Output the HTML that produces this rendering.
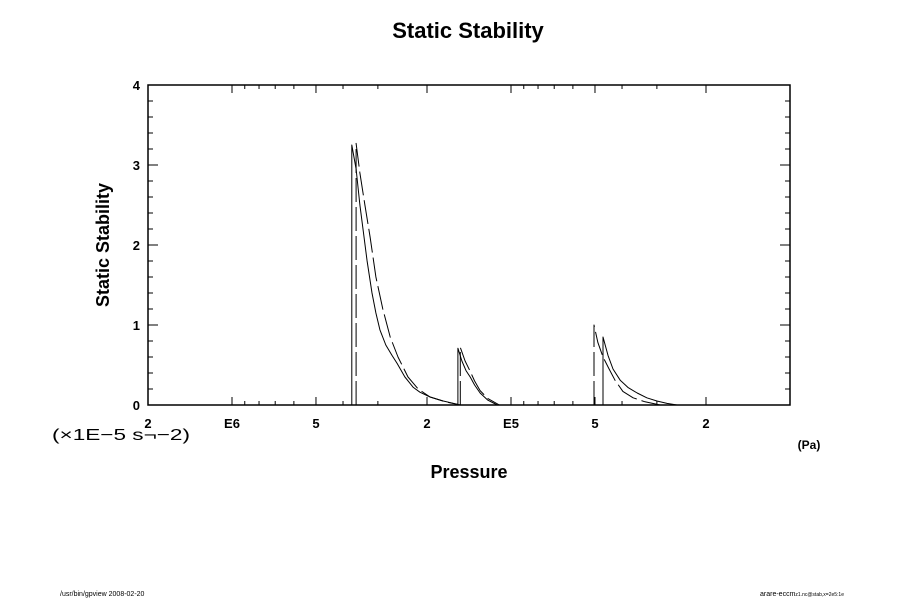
<!DOCTYPE html>
<html><head><meta charset="utf-8"><style>
body{margin:0;background:#fff}
svg text{font-family:"Liberation Sans",sans-serif}
</style></head><body>
<svg width="900" height="600" viewBox="0 0 900 600" xmlns="http://www.w3.org/2000/svg">
<text x="468" y="38" text-anchor="middle" font-size="22" font-weight="bold">Static Stability</text>
<text transform="translate(109,245) rotate(-90)" text-anchor="middle" font-size="18" font-weight="bold">Static Stability</text>
<text x="469" y="478" text-anchor="middle" font-size="18" font-weight="bold">Pressure</text>
<text x="809" y="449" text-anchor="middle" font-size="12" font-weight="bold">(Pa)</text>
<text x="52" y="440" font-size="16" textLength="138" lengthAdjust="spacingAndGlyphs" font-family="DejaVu Sans, sans-serif" font-weight="200">(×1E−5 s¬−2)</text>
<text x="60" y="596" font-size="7">/usr/bin/gpview 2008-02-20</text>
<text x="760" y="596" font-size="7">arare-eccm<tspan font-size="5">z1.nc@stab,x=2e5:1e</tspan></text>
<g id="axes"></g>
<g id="plot"></g>
</svg>
<script>
const yTicks=[0,1,2,3,4];
const xMajorTicks=[2e6,1e6,5e5,2e5,1e5,5e4,2e4];
const xMajorLabels=["2","E6","5","2","E5","5","2"];
const solidP=[3.72e5,3.72e5,3.59e5,3.48e5,3.39e5,3.28e5,3.15e5,3.05e5,2.95e5,2.81e5,2.67e5,2.56e5,2.40e5,2.24e5,2.12e5,1.95e5,1.75e5,1.56e5,1.55e5,null,1.55e5,1.55e5,1.50e5,1.45e5,1.40e5,1.35e5,1.29e5,1.21e5,1.12e5,null,4.68e4,4.68e4,4.49e4,4.31e4,4.06e4,3.81e4,3.53e4,3.26e4,3.0e4,2.76e4,2.54e4];
const solidV=[0,3.25,2.95,2.5,2.19,1.8,1.4,1.15,0.94,0.75,0.62,0.52,0.35,0.22,0.16,0.1,0.05,0.01,0,null,0,0.71,0.55,0.43,0.35,0.25,0.15,0.06,0,null,0,0.85,0.62,0.45,0.31,0.22,0.15,0.09,0.05,0.02,0];
const dashP=[3.59e5,3.59e5,3.48e5,3.34e5,3.2e5,3.05e5,2.88e5,2.71e5,2.54e5,2.34e5,2.15e5,1.95e5,1.72e5,1.52e5,null,1.52e5,1.52e5,1.46e5,1.40e5,1.35e5,1.29e5,1.21e5,1.1e5,null,5.04e4,5.04e4,4.88e4,4.68e4,4.45e4,4.24e4,3.97e4,3.65e4,3.31e4,2.92e4];
const dashV=[0,3.27,2.9,2.5,2.1,1.6,1.2,0.85,0.6,0.35,0.2,0.1,0.04,0,null,0,0.72,0.55,0.42,0.3,0.18,0.08,0,null,0,1.0,0.78,0.6,0.45,0.31,0.17,0.09,0.04,0];
const X0=148,X1=790,Y0=405,Y1=85,PMAX=2e6,PMIN=1e4;
function xs(p){return X0+(Math.log10(PMAX)-Math.log10(p))/(Math.log10(PMAX)-Math.log10(PMIN))*(X1-X0);}
function ys(v){return Y0-v/4*(Y0-Y1);}
const NS="http://www.w3.org/2000/svg";
const axes=document.getElementById('axes'),plot=document.getElementById('plot');
function ln(g,x1,y1,x2,y2,w,name){const l=document.createElementNS(NS,'line');l.setAttribute('x1',x1);l.setAttribute('y1',y1);l.setAttribute('x2',x2);l.setAttribute('y2',y2);l.setAttribute('stroke','#000');l.setAttribute('stroke-width',w||1);


g.appendChild(l);return l;}
const fr=document.createElementNS(NS,'rect');fr.setAttribute('x',X0);fr.setAttribute('y',Y1);fr.setAttribute('width',X1-X0);fr.setAttribute('height',Y0-Y1);fr.setAttribute('fill','none');fr.setAttribute('stroke','#000');fr.setAttribute('stroke-width','1.5');


axes.appendChild(fr);
for(let i=0;i<=20;i++){const v=i*0.2,y=ys(v),maj=i%5===0,L=maj?10:5;
ln(axes,X0,y,X0+L,y,1,'y-tick');ln(axes,X1,y,X1-L,y,1,'y-tick-right');}
yTicks.forEach(v=>{const t=document.createElementNS(NS,'text');t.setAttribute('x',X0-8);t.setAttribute('y',ys(v)+5);t.setAttribute('text-anchor','end');t.setAttribute('font-size','13');t.setAttribute('font-weight','bold');t.textContent=v;


axes.appendChild(t);});
for(let e=5;e>=4;e--){for(let k=10;k>=1;k--){const p=k*Math.pow(10,e);if(p>1e6||p<2e4)continue;const maj=[1,2,5,10].includes(k);const L=maj?8:4,x=xs(p);
ln(axes,x,Y0,x,Y0-L,1,'x-tick');ln(axes,x,Y1,x,Y1+L,1,'x-tick-top');}}
xMajorTicks.forEach((p,i)=>{const t=document.createElementNS(NS,'text');t.setAttribute('x',xs(p));t.setAttribute('y',428);t.setAttribute('text-anchor','middle');t.setAttribute('font-size','13');t.setAttribute('font-weight','bold');t.textContent=xMajorLabels[i];


axes.appendChild(t);});
function path(P,V,dash,name){let d='',start=true;for(let i=0;i<P.length;i++){if(P[i]===null){start=true;continue;}d+=(start?'M':'L')+xs(P[i]).toFixed(1)+','+ys(V[i]).toFixed(1);start=false;}
const pa=document.createElementNS(NS,'path');pa.setAttribute('d',d);pa.setAttribute('fill','none');pa.setAttribute('stroke','#000');pa.setAttribute('stroke-width','1');pa.setAttribute('stroke-linejoin','round');if(dash)pa.setAttribute('stroke-dasharray',dash);


plot.appendChild(pa);}
path(solidP,solidV,null,'series-solid');
path(dashP,dashV,'24,5','series-dashed');
</script>
</body></html>
